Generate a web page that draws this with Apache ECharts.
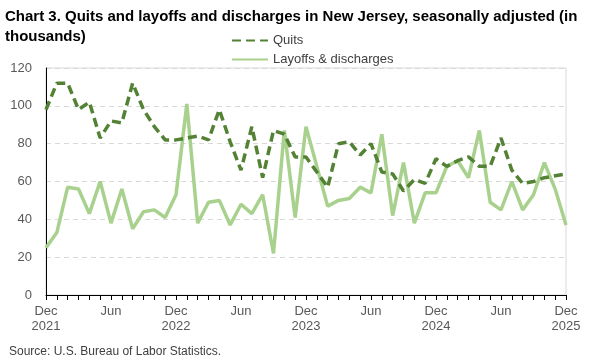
<!DOCTYPE html>
<html>
<head>
<meta charset="utf-8">
<script src="https://cdn.jsdelivr.net/npm/echarts@6/dist/echarts.min.js"></script>
<style>
  html, body { margin: 0; padding: 0; background: #fff; }
  #chart { width: 600px; height: 360px; }
</style>
</head>
<body>
<div id="chart"></div>
<script>
// months Dec 2021 .. Dec 2025
var months = ["Dec\n2021","Jan","Feb","Mar","Apr","May","Jun","Jul","Aug","Sep","Oct","Nov",
  "Dec\n2022","Jan","Feb","Mar","Apr","May","Jun","Jul","Aug","Sep","Oct","Nov",
  "Dec\n2023","Jan","Feb","Mar","Apr","May","Jun","Jul","Aug","Sep","Oct","Nov",
  "Dec\n2024","Jan","Feb","Mar","Apr","May","Jun","Jul","Aug","Sep","Oct","Nov",
  "Dec\n2025"];

var quits = [98, 112, 112, 98, 102, 83, 92, 91, 112, 98, 89, 82,
  82, 83, 84, 82, 98, 81, 66, 89, 62, 87, 85, 73,
  73, 65, 57, 80, 81, 74, 80, 65, 64, 55, 61, 59,
  72, 68, 71, 73, 68, 68, 83, 66, 59, 60, 62, 63, 64];

var layoffs = [25, 33, 57, 56, 43, 60, 38, 56, 35, 44, 45, 41,
  53, 101, 38, 49, 50, 37, 48, 43, 53, 22, 87, 41,
  89, 68, 47, 50, 51, 57, 54, 85, 42, 70, 38, 54,
  54, 68, 71, 62, 87, 49, 45, 60, 45, 53, 70, 56, 37];

var yTicks = { min: 0, max: 120, interval: 20 };

var FONT = "'Liberation Sans Narrow', 'Liberation Sans', sans-serif";

var chart = echarts.init(document.getElementById("chart"));
chart.setOption({
  animation: false,
  textStyle: { fontFamily: FONT },
  title: [
    {
      text: "Chart 3. Quits and layoffs and discharges in New Jersey, seasonally adjusted (in\nthousands)",
      left: 0, top: 2,
      textStyle: { fontSize: 15, fontWeight: "bold", color: "#000", lineHeight: 20, fontFamily: FONT }
    },
    {
      text: "Source: U.S. Bureau of Labor Statistics.",
      left: 4, bottom: -3,
      textStyle: { fontSize: 12, fontWeight: "normal", color: "#404040", fontFamily: FONT }
    }
  ],
  legend: {
    orient: "vertical",
    left: 226, top: 29,
    itemWidth: 36, itemHeight: 10, itemGap: 6,
    itemStyle: { opacity: 0 },
    textStyle: { fontSize: 13, color: "#404040", fontFamily: FONT },
    data: ["Quits", "Layoffs & discharges"]
  },
  grid: {
    left: 46, right: 34, top: 68, bottom: 65,
    show: true, borderColor: "#d9d9d9", borderWidth: 1
  },
  xAxis: {
    type: "category",
    boundaryGap: false,
    data: months,
    axisLine: { lineStyle: { color: "#000", width: 1 } },
    axisTick: { interval: 0, length: 5, lineStyle: { color: "#000" } },
    axisLabel: {
      interval: 5, color: "#595959", fontSize: 13, lineHeight: 15, margin: 9,
      fontFamily: FONT
    },
    splitLine: { show: false }
  },
  yAxis: {
    type: "value",
    min: yTicks.min, max: yTicks.max, interval: yTicks.interval,
    axisLine: { show: true, lineStyle: { color: "#000", width: 1 } },
    axisTick: { show: false },
    axisLabel: { color: "#595959", fontSize: 13, margin: 14, fontFamily: FONT },
    splitLine: { lineStyle: { color: "#d9d9d9", type: [5, 4] } }
  },
  series: [
    {
      name: "Quits",
      type: "line",
      data: quits,
      symbol: "none",
      color: "#548235",
      lineStyle: { color: "#548235", width: 3.5, type: [9, 5] },
      z: 3
    },
    {
      name: "Layoffs & discharges",
      type: "line",
      data: layoffs,
      symbol: "none",
      color: "#a9d18e",
      lineStyle: { color: "#a9d18e", width: 3.5 },
      z: 2
    }
  ]
});
</script>
</body>
</html>
